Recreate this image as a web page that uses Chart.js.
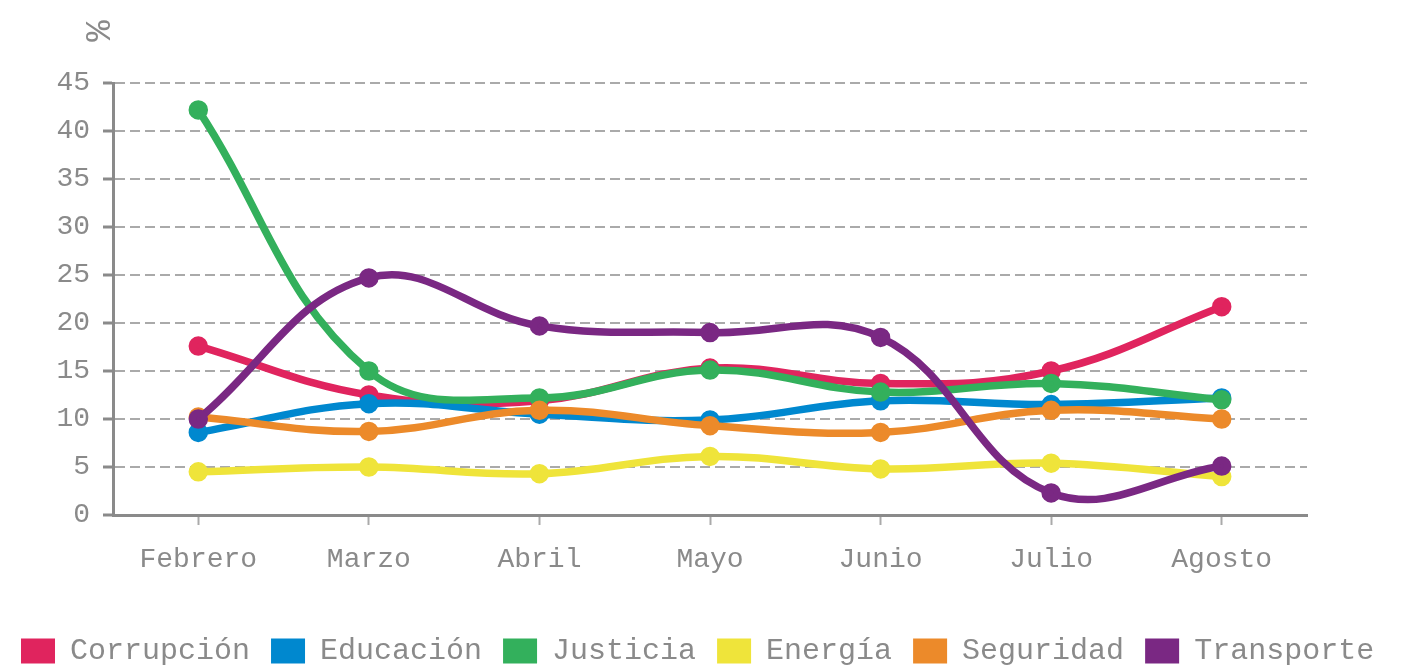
<!DOCTYPE html>
<html>
<head>
<meta charset="utf-8">
<script src="https://cdn.jsdelivr.net/npm/chart.js@4.4.1/dist/chart.umd.min.js"></script>
<style>
  html, body { margin: 0; padding: 0; background: #fff; overflow: hidden; }
  #wrap { width: 1408px; height: 676px; }
</style>
</head>
<body>
<div id="wrap"><canvas id="grafico"></canvas></div>
<script>
const meses = ['Febrero', 'Marzo', 'Abril', 'Mayo', 'Junio', 'Julio', 'Agosto'];

const corrupcion = [17.6, 12.5, 11.9, 15.3, 13.7, 15.0, 21.7];
const educacion  = [8.6, 11.6, 10.5, 9.9, 11.9, 11.5, 12.2];
const justicia   = [42.2, 15.0, 12.2, 15.1, 12.8, 13.7, 12.0];
const energia    = [4.5, 5.0, 4.3, 6.1, 4.8, 5.4, 4.0];
const seguridad  = [10.2, 8.7, 10.9, 9.3, 8.6, 10.9, 10.0];
const transporte = [10.0, 24.7, 19.7, 19.0, 18.5, 2.3, 5.1];

const ticksY = [0, 5, 10, 15, 20, 25, 30, 35, 40, 45];

const fuente = 'Liberation Mono, Courier New, monospace';
const gris = '#8a8a8a';

function serie(nombre, datos, color, orden) {
  return {
    label: nombre,
    data: datos,
    borderColor: color,
    backgroundColor: color,
    pointBackgroundColor: color,
    pointBorderColor: color,
    borderWidth: 7.5,
    pointRadius: 6,
    tension: 0.4,
    fill: false,
    order: orden
  };
}

// simbolo % girado arriba del eje
const porcentaje = {
  id: 'porcentaje',
  afterDraw(chart) {
    const ctx = chart.ctx;
    ctx.save();
    ctx.translate(100, 31);
    ctx.rotate(-Math.PI / 2);
    ctx.font = '36px ' + fuente;
    ctx.fillStyle = gris;
    ctx.textAlign = 'center';
    ctx.textBaseline = 'middle';
    ctx.fillText('%', 0, 0);
    ctx.restore();
  }
};

const ctx = document.getElementById('grafico').getContext('2d');

new Chart(ctx, {
  type: 'line',
  data: {
    labels: meses,
    datasets: [
      serie('Corrupción', corrupcion, '#e0245e', 6),
      serie('Educación', educacion, '#0088cf', 5),
      serie('Justicia', justicia, '#33b05c', 4),
      serie('Energía', energia, '#efe43a', 3),
      serie('Seguridad', seguridad, '#ec8a2a', 2),
      serie('Transporte', transporte, '#7a2883', 1)
    ]
  },
  options: {
    responsive: true,
    maintainAspectRatio: false,
    animation: false,
    layout: {
      padding: { top: 83, right: 0, bottom: 0, left: 0 }
    },
    plugins: {
      tooltip: { enabled: false },
      legend: {
        position: 'bottom',
        align: 'start',
        labels: {
          boxWidth: 34,
          boxHeight: 25,
          padding: 21,
          color: gris,
          font: { family: fuente, size: 30 },
          sort: function(a, b) { return a.datasetIndex - b.datasetIndex; },
          generateLabels: function(chart) {
            const items = Chart.defaults.plugins.legend.labels.generateLabels(chart);
            items.forEach(function(it) { it.lineWidth = 0; });
            return items;
          }
        }
      }
    },
    scales: {
      x: {
        offset: true,
        afterFit: function(scale) { scale.height = 100; },
        grid: {
          offset: false,
          drawOnChartArea: false,
          drawTicks: true,
          tickLength: 10,
          tickWidth: 2,
          tickColor: '#aaaaaa'
        },
        border: { display: true, color: gris, width: 3 },
        ticks: {
          padding: 18,
          color: gris,
          font: { family: fuente, size: 28 },
          maxRotation: 0
        }
      },
      y: {
        min: 0,
        max: 45,
        afterFit: function(scale) { scale.width = 113; },
        afterBuildTicks: function(scale) {
          scale.ticks = ticksY.map(function(v) { return { value: v }; });
        },
        grid: {
          color: '#aaaaaa',
          lineWidth: 2,
          drawTicks: true,
          tickLength: 10,
          tickWidth: 3,
          tickColor: gris
        },
        border: { display: true, color: gris, width: 3, dash: [10, 5] },
        ticks: {
          padding: 13,
          color: gris,
          font: { family: fuente, size: 28 }
        }
      },
      // eje vacio a la derecha solo para reservar margen
      margen: {
        position: 'right',
        display: true,
        afterFit: function(scale) { scale.width = 101; },
        grid: { display: false },
        border: { display: false },
        ticks: { display: false }
      }
    }
  },
  plugins: [porcentaje]
});
</script>
</body>
</html>
